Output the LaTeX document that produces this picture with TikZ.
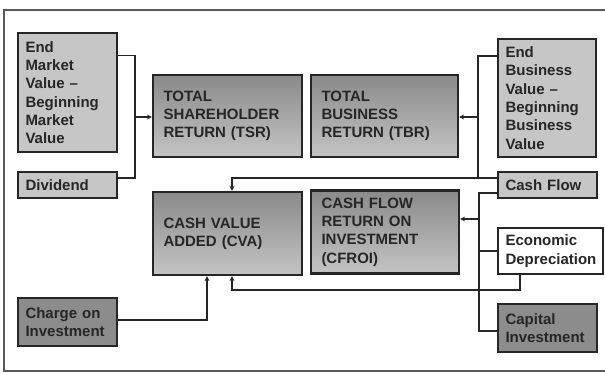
\documentclass[tikz,border=0pt]{standalone}
\usepackage{fontspec}
\setmainfont{Liberation Sans}
\usetikzlibrary{arrows.meta,calc}
\definecolor{lightbox}{HTML}{C6C6C6}
\definecolor{darkbox}{HTML}{8C8C8C}
\definecolor{ink}{HTML}{262626}
\definecolor{bigtop}{HTML}{8A8A8A}
\definecolor{bigbot}{HTML}{C4C4C4}
\tikzset{
  every node/.style={font=\fontsize{15}{18.3}\selectfont\bfseries, text=ink},
  basebox/.style={draw=ink, line width=1.8pt, rectangle, align=left, inner ysep=0pt},
  smallbox/.style={basebox, fill=lightbox, minimum width=99pt, text width=84pt, inner xsep=7.5pt},
  darksmall/.style={basebox, fill=darkbox, minimum width=99pt, text width=84pt, inner xsep=7.5pt},
  bigbox/.style={basebox, line width=2.2pt, top color=bigtop, bottom color=bigbot, minimum width=149pt, text width=128pt, inner xsep=10.5pt},
  link/.style={draw=ink, line width=1.6pt},
  arr/.style={link, -{Stealth[length=5pt,width=5pt]}},
}
\begin{document}
\begin{tikzpicture}[x=1pt,y=-1pt]
\useasboundingbox (0,0) rectangle (605,373);
\fill[white] (0,0) rectangle (605,373);
\draw[draw=gray!70!black, line width=1.2pt] (606,10) -- (4,10) -- (4,371) -- (606,371);

\node[smallbox, minimum height=119pt] (emv) at (67.5,92.5) {End\\Market\\Value --\\Beginning\\Market\\Value};
\node[smallbox, minimum height=26pt] (div) at (67.5,185) {Dividend};
\node[darksmall, minimum height=48pt] (coi) at (67.5,322) {Charge on\\Investment};

\node[bigbox, minimum height=82pt] (tsr) at (227.5,116) {TOTAL\\SHAREHOLDER\\RETURN (TSR)};
\node[bigbox, minimum width=147pt, text width=126pt, minimum height=82pt] (tbr) at (384.5,116) {TOTAL\\BUSINESS\\RETURN (TBR)};
\node[bigbox, minimum height=83pt] (cva) at (227.5,233.5) {CASH VALUE\\ADDED (CVA)};
\node[bigbox, minimum width=148pt, text width=127pt, minimum height=83pt] (cfroi) at (385,232) {CASH FLOW\\RETURN ON\\INVESTMENT\\(CFROI)};

\node[smallbox, minimum width=98pt, text width=83pt, minimum height=118pt] (ebv) at (547,98) {End\\Business\\Value --\\Beginning\\Business\\Value};
\node[smallbox, minimum height=26pt] (cf) at (547.5,185) {Cash Flow};
\node[basebox, fill=white, minimum width=105pt, text width=90pt, inner xsep=7.5pt, minimum height=46pt] (ed) at (550.5,251) {Economic\\Depreciation};
\node[darksmall, minimum height=48pt] (ci) at (547.5,328) {Capital\\Investment};

% TSR inputs
\coordinate (jl) at (135,117);
\draw[link] ($(emv.east)+(0,-37)$) -| (jl) |- ($(div.east)+(0,-7)$);
\draw[arr] (jl) -- (tsr.west |- jl);

% TBR inputs
\coordinate (jr) at (478,117);
\draw[link] ($(ebv.west)+(0,-42)$) -| (jr) |- ($(cf.west)+(0,-7)$);
\draw[arr] (jr) -- (tbr.east |- jr);

% Cash flow to CVA
\coordinate (cvatop) at (232,178);
\draw[arr] ($(cf.west)+(0,-7)$) -- (cvatop) -- (cva.north -| cvatop);

% CFROI inputs
\coordinate (jc) at (479,219);
\draw[link] ($(cf.west)+(0,8)$) -| (jc) |- (ci.west |- 0,331);
\draw[link] (ed.west) -- (ed.west -| jc);
\draw[arr] (jc) -- (cfroi.east |- jc);

% Economic depreciation to CVA
\coordinate (edturn) at (520,290);
\coordinate (cvab) at (232,290);
\draw[arr] (ed.south -| edturn) -- (edturn) -- (cvab) -- (cva.south -| cvab);

% Charge on investment to CVA
\coordinate (coiturn) at (207,320);
\draw[arr] (coi.east |- coiturn) -- (coiturn) -- (cva.south -| coiturn);
\end{tikzpicture}
\end{document}
